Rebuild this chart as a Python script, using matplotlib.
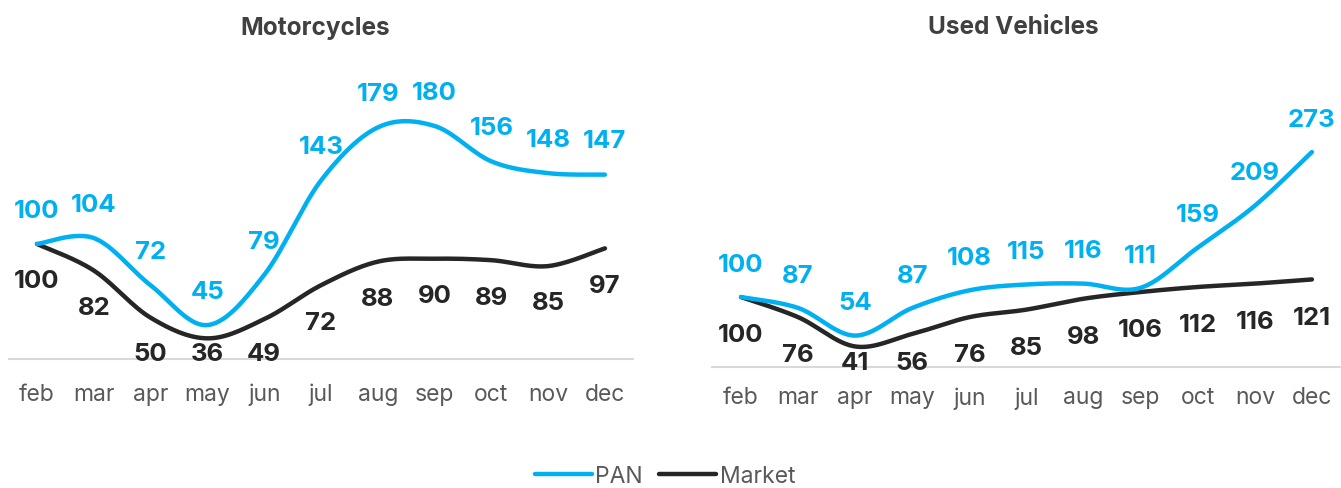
import numpy as np
import matplotlib
matplotlib.use('Agg')
import matplotlib.pyplot as plt
from matplotlib.lines import Line2D

plt.rcParams['font.family'] = ['Inter', 'DejaVu Sans']

months = ['feb', 'mar', 'apr', 'may', 'jun', 'jul', 'aug', 'sep', 'oct', 'nov', 'dec']

moto_pan = [100, 104, 72, 45, 79, 143, 179, 180, 156, 148, 147]
moto_market = [100, 82, 50, 36, 49, 72, 88, 90, 89, 85, 97]

used_pan = [100, 87, 54, 87, 108, 115, 116, 111, 159, 209, 273]
used_market = [100, 76, 41, 56, 76, 85, 98, 106, 112, 116, 121]

PAN_COLOR = '#00B0F0'
MKT_COLOR = '#262626'


def smooth(y, n=30):
    # excel-like smoothed line: bezier segments with catmull-rom control points
    y = np.asarray(y, dtype=float)
    x = np.arange(len(y), dtype=float)
    xs, ys = [], []
    for i in range(len(y) - 1):
        p0 = (x[max(i - 1, 0)], y[max(i - 1, 0)])
        p1 = (x[i], y[i])
        p2 = (x[i + 1], y[i + 1])
        p3 = (x[min(i + 2, len(y) - 1)], y[min(i + 2, len(y) - 1)])
        c1 = (p1[0] + (p2[0] - p0[0]) / 6, p1[1] + (p2[1] - p0[1]) / 6)
        c2 = (p2[0] - (p3[0] - p1[0]) / 6, p2[1] - (p3[1] - p1[1]) / 6)
        t = np.linspace(0, 1, n)
        for k in range(2):
            pts = [p1[k], c1[k], c2[k], p2[k]]
            v = ((1 - t) ** 3 * pts[0] + 3 * (1 - t) ** 2 * t * pts[1]
                 + 3 * (1 - t) * t ** 2 * pts[2] + t ** 3 * pts[3])
            (xs if k == 0 else ys).append(v)
    return np.concatenate(xs), np.concatenate(ys)


def draw(ax, pan, market, ylim, up, down, floor, title, title_x, pad):
    for vals, col in [(market, MKT_COLOR), (pan, PAN_COLOR)]:
        sx, sy = smooth(vals)
        ax.plot(sx, sy, color=col, lw=3.2, solid_capstyle='round')
    for i, v in enumerate(pan):
        ax.text(i, v + up, str(v), color=PAN_COLOR, fontsize=18.5, fontweight='bold',
                ha='center', va='center')
    for i, v in enumerate(market):
        ax.text(i, max(v - down, floor), str(v), color=MKT_COLOR, fontsize=18.5,
                fontweight='bold', ha='center', va='center')
    ax.set_xlim(-0.5, 10.5)
    ax.set_ylim(*ylim)
    ax.set_xticks(range(len(months)))
    ax.set_xticklabels(months, color='#595959', fontsize=16.5)
    ax.tick_params(axis='x', length=0, pad=pad)
    ax.set_yticks([])
    for s in ['top', 'left', 'right']:
        ax.spines[s].set_visible(False)
    ax.spines['bottom'].set_color('#D9D9D9')
    ax.spines['bottom'].set_linewidth(1.5)
    fig.text(title_x, 1 - 28 / 489, title, ha='center', va='center',
             fontsize=17.5, fontweight='bold', color='#404040')


fig = plt.figure(figsize=(13.41, 4.89), dpi=100)
ax1 = fig.add_axes([0.0064, 0.2638, 0.4659, 0.6135])
ax2 = fig.add_axes([0.5313, 0.2474, 0.4683, 0.6299])

draw(ax1, moto_pan, moto_market, (22, 225.4), 23, 25, 25.5, 'Motorcycles', 315 / 1341, 17)
draw(ax2, used_pan, used_market, (16.5, 384), 39, 45, 22, 'Used Vehicles', 1013 / 1341, 14)

handles = [Line2D([], [], color=PAN_COLOR, lw=3.2, solid_capstyle='round'),
           Line2D([], [], color=MKT_COLOR, lw=3.2, solid_capstyle='round')]
leg = fig.legend(handles, ['PAN', 'Market'], loc='center', bbox_to_anchor=(665 / 1341, 1 - 477 / 489),
                 ncol=2, frameon=False, handlelength=2.5, handletextpad=0.15,
                 columnspacing=0.7, prop={'size': 16.5})
for t in leg.get_texts():
    t.set_color('#595959')

fig.savefig('out.png', dpi=100)
